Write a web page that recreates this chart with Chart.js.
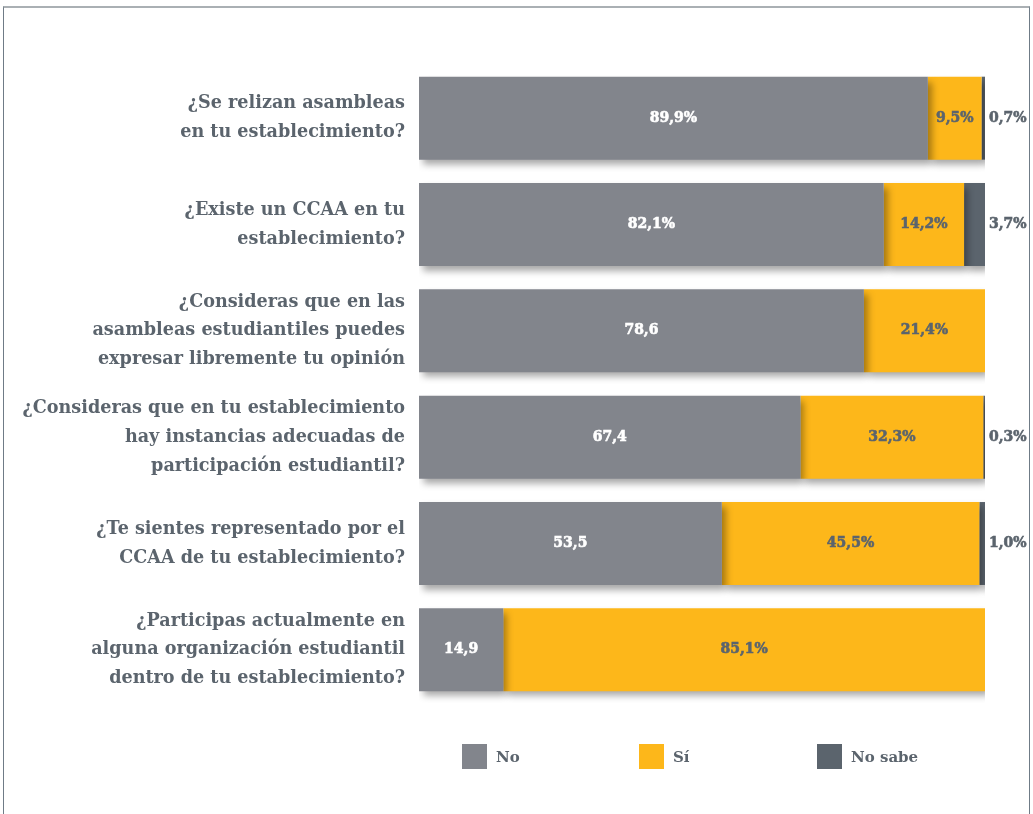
<!DOCTYPE html>
<html>
<head>
<meta charset="utf-8">
<script src="https://cdn.jsdelivr.net/npm/chart.js@4.4.0/dist/chart.umd.min.js"></script>
<style>
  html, body { margin: 0; padding: 0; background: #fff; }
  #wrap { position: relative; width: 1033px; height: 814px; }
  #frame {
    position: absolute; left: 3px; top: 6px; width: 1027px; height: 808px;
    border-top: 2px solid #aab0b4; border-left: 1px solid #6f7b86; border-right: 1px solid #6f7b86;
    box-sizing: border-box; pointer-events: none;
  }
  #legend { position: absolute; top: 744px; left: 0; width: 1033px; height: 25px;
    font: bold 15px "DejaVu Serif", serif; color: #5b646d; }
  #legend .item { position: absolute; top: 0; height: 25px; display: flex; align-items: center; }
  #legend .box { width: 25px; height: 25px; margin-right: 9px; }
</style>
</head>
<body>
<div id="wrap">
  <canvas id="chart" width="1033" height="814"></canvas>
  <div id="frame"></div>
  <div id="legend"></div>
</div>
<script>
// categories (multi-line y labels)
const categories = [
  ['¿Se relizan asambleas', 'en tu establecimiento?'],
  ['¿Existe un CCAA en tu', 'establecimiento?'],
  ['¿Consideras que en las', 'asambleas estudiantiles puedes', 'expresar libremente tu opinión'],
  ['¿Consideras que en tu establecimiento', 'hay instancias adecuadas de', 'participación estudiantil?'],
  ['¿Te sientes representado por el', 'CCAA de tu establecimiento?'],
  ['¿Participas actualmente en', 'alguna organización estudiantil', 'dentro de tu establecimiento?']
];

// series values (%)
const noValues = [89.9, 82.1, 78.6, 67.4, 53.5, 14.9];
const siValues = [9.5, 14.2, 21.4, 32.3, 45.5, 85.1];
const noSabeValues = [0.7, 3.7, null, 0.3, 1.0, null];

// value labels as printed in the source
const noLabels = ['89,9%', '82,1%', '78,6', '67,4', '53,5', '14,9'];
const siLabels = ['9,5%', '14,2%', '21,4%', '32,3%', '45,5%', '85,1%'];
const noSabeLabels = ['0,7%', '3,7%', '', '0,3%', '1,0%', ''];

const seriesNames = ['No', 'Sí', 'No sabe'];
const seriesColors = ['#82858c', '#fdb71a', '#5b646d'];

const FONT = '"DejaVu Serif", serif';

// drop shadow under the bars
const shadowPlugin = {
  id: 'barShadow',
  beforeDatasetsDraw(chart) {
    const ctx = chart.ctx;
    ctx.save();
    ctx.shadowColor = 'rgba(0,0,0,0.35)';
    ctx.shadowBlur = 7;
    ctx.shadowOffsetX = 4;
    ctx.shadowOffsetY = 5;
  },
  afterDatasetsDraw(chart) {
    chart.ctx.restore();
  }
};

// value labels inside / beside the bars
const valueLabels = {
  id: 'valueLabels',
  afterDatasetsDraw(chart) {
    const ctx = chart.ctx;
    const sets = [
      { labels: noLabels, color: '#ffffff', outside: false },
      { labels: siLabels, color: '#5b646d', outside: false },
      { labels: noSabeLabels, color: '#5b646d', outside: true }
    ];
    ctx.save();
    ctx.font = 'bold 14px ' + FONT;
    ctx.textBaseline = 'middle';
    ctx.lineWidth = 0.6;
    sets.forEach((s, di) => {
      const meta = chart.getDatasetMeta(di);
      meta.data.forEach((el, i) => {
        const txt = s.labels[i];
        if (!txt) return;
        ctx.fillStyle = s.color;
        ctx.strokeStyle = s.color;
        let x;
        if (s.outside) {
          ctx.textAlign = 'left';
          x = chart.chartArea.right + 4;
        } else {
          ctx.textAlign = 'center';
          x = (el.x + el.base) / 2;
        }
        ctx.fillText(txt, x, el.y);
        ctx.strokeText(txt, x, el.y);
      });
    });
    ctx.restore();
  }
};

const datasets = [noValues, siValues, noSabeValues].map((vals, i) => ({
  label: seriesNames[i],
  data: vals,
  backgroundColor: seriesColors[i],
  borderWidth: 0,
  barPercentage: 0.78,
  categoryPercentage: 1
}));

new Chart(document.getElementById('chart'), {
  type: 'bar',
  data: { labels: categories, datasets },
  options: {
    indexAxis: 'y',
    responsive: false,
    animation: false,
    layout: { padding: { top: 65, right: 48, bottom: 111, left: 0 } },
    plugins: {
      legend: { display: false },
      tooltip: { enabled: false }
    },
    scales: {
      x: { stacked: true, display: false, min: 0, max: 100 },
      y: {
        stacked: true,
        grid: { display: false, drawTicks: false },
        border: { display: false },
        ticks: {
          color: '#5b646d',
          padding: 14,
          font: { family: FONT, size: 17.6, weight: 'bold', lineHeight: 1.64 }
        },
        afterFit(scale) { scale.width = 419; }
      }
    }
  },
  plugins: [shadowPlugin, valueLabels]
});

// legend
const legendLeft = [462, 639, 817];
const legend = document.getElementById('legend');
seriesNames.forEach((name, i) => {
  const item = document.createElement('div');
  item.className = 'item';
  item.style.left = legendLeft[i] + 'px';
  item.innerHTML = '<span class="box" style="background:' + seriesColors[i] + '"></span><span>' + name + '</span>';
  legend.appendChild(item);
});
</script>
</body>
</html>
